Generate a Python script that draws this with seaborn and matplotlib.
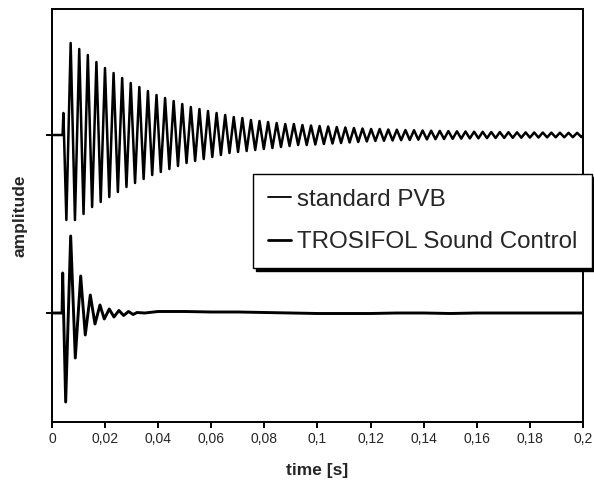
import numpy as np
import pandas as pd
import seaborn as sns
import matplotlib.pyplot as plt

# decay curves, amplitude in arbitrary units

# standard PVB: onset spike, then alternating extrema on a constant half period
pvb_onset_t = [0.0, 0.0040, 0.0043]
pvb_onset = [0.0, 0.0, 22.0]
pvb_t0 = 0.00542
pvb_half_period = 0.0016165
pvb_peaks = [
    -85, 92, -85, 86, -79, 80, -72, 73, -67, 67,
    -62, 62, -57, 57, -52, 52, -48, 48, -44, 44,
    -40, 40, -37, 37, -34, 34, -31, 31, -28, 28,
    -26, 26, -24, 24, -22, 22, -20, 20, -18, 18,
    -17, 17, -16, 15, -15, 14, -14, 13, -13, 12,
    -12, 11, -11, 11, -10, 10, -10, 9.5, -9.5, 9,
    -9, 8.5, -8.5, 8, -8, 7.5, -7.5, 7, -7, 6.5,
    -6.5, 6, -6, 6, -5.8, 5.5, -5.5, 5.3, -5.2, 5,
    -5, 4.8, -4.7, 4.5, -4.4, 4.3, -4.2, 4.1, -4, 3.9,
    -3.8, 3.7, -3.6, 3.5, -3.4, 3.3, -3.3, 3.2, -3.1, 3,
    -3, 2.9, -2.9, 2.8, -2.8, 2.7, -2.7, 2.6, -2.6, 2.5,
    -2.5, 2.5, -2.4, 2.4, -2.3, 2.3, -2.3, 2.2, -2.2, 2.2, -2.1,
]

# TROSIFOL Sound Control
tsc_t = [0.0, 0.0038, 0.00403, 0.00516, 0.00704, 0.00878, 0.01081, 0.01254,
         0.01443, 0.0162, 0.01808, 0.0197, 0.02158, 0.02335, 0.0252, 0.0270,
         0.0288, 0.0306, 0.032, 0.035, 0.04, 0.05, 0.06, 0.07, 0.08, 0.09,
         0.10, 0.11, 0.12, 0.13, 0.14, 0.15, 0.16, 0.17, 0.18, 0.19, 0.2]
tsc_amp = [0, 0, 40, -89, 77, -45, 37, -22, 18, -11, 8, -6, 4, -4, 2.5, -2.5,
           1.5, -1.5, 0.5, 0, 1.5, 1.5, 1, 1, 0.5, 0, -0.5, -0.5, -0.5, 0, 0,
           -0.5, 0, 0, 0, 0, 0]

amp_unit = 89.0
offsets = {"standard PVB": 1.0, "TROSIFOL Sound Control": -1.0}

xticks = [0, 0.02, 0.04, 0.06, 0.08, 0.1, 0.12, 0.14, 0.16, 0.18, 0.2]
xticklabels = ["0", "0,02", "0,04", "0,06", "0,08", "0,1", "0,12", "0,14",
               "0,16", "0,18", "0,2"]

pvb_t = np.concatenate([pvb_onset_t, pvb_t0 + pvb_half_period * np.arange(len(pvb_peaks)), [0.2]])
pvb_y = np.concatenate([pvb_onset, pvb_peaks, [0.0]])

pvb = pd.DataFrame({"time": pvb_t, "amp": pvb_y / amp_unit + offsets["standard PVB"]})
tsc = pd.DataFrame({"time": tsc_t,
                    "amp": np.array(tsc_amp) / amp_unit + offsets["TROSIFOL Sound Control"]})

sns.set_style("ticks")
plt.rcParams["font.family"] = ["Liberation Sans", "DejaVu Sans"]

fig = plt.figure(figsize=(5.94, 4.82), dpi=100)
ax = fig.add_axes([0.0875, 0.1245, 0.894, 0.8568])

sns.lineplot(data=pvb, x="time", y="amp", ax=ax, color="black", lw=1.8,
             label="standard PVB", sort=False)
sns.lineplot(data=tsc, x="time", y="amp", ax=ax, color="black", lw=2.1,
             label="TROSIFOL Sound Control", sort=False)

ax.set_xlim(0, 0.2)
ax.set_ylim(-1 - 109 / amp_unit, 1 + 126 / amp_unit)
ax.set_xticks(xticks)
ax.set_xticklabels(xticklabels, fontsize=10)
ax.set_yticks(list(offsets.values()))
ax.set_yticklabels([])
ax.tick_params(axis="both", direction="out", length=4, width=1.4, color="black")
for s in ax.spines.values():
    s.set_visible(True)
    s.set_linewidth(1.4)
    s.set_color("black")

ax.set_xlabel("time [s]", fontsize=12.5, fontweight="bold", labelpad=12)
ax.set_ylabel("amplitude", fontsize=12.5, fontweight="bold", labelpad=10)

leg = ax.legend(loc="upper left", bbox_to_anchor=(0.426, 0.639),
                bbox_transform=fig.transFigure, borderaxespad=0,
                fontsize=17.4, frameon=True, fancybox=False, edgecolor="black",
                framealpha=1, handlelength=0.95, handletextpad=0.28,
                labelspacing=0.86, borderpad=0.6,
                shadow={"color": "black", "alpha": 1})
leg.get_frame().set_linewidth(1.0)
leg.get_lines()[0].set_linewidth(1.3)
leg.get_lines()[1].set_linewidth(2.0)

fig.savefig("out.png", dpi=100)
